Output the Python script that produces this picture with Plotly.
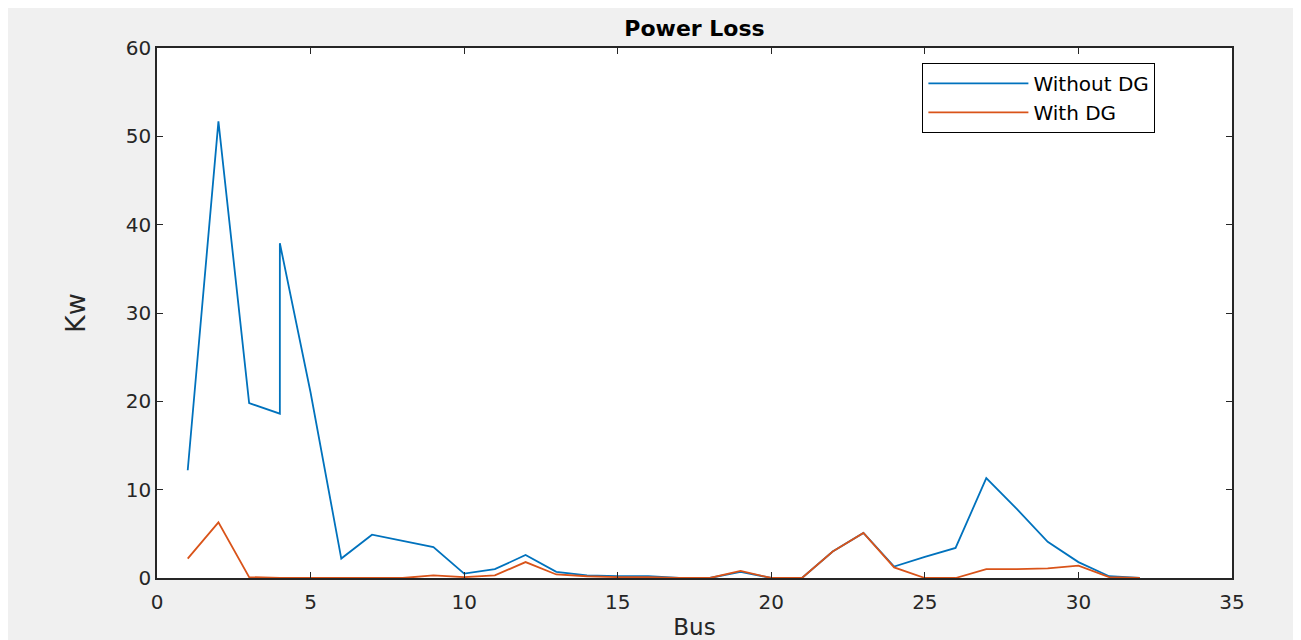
import plotly.graph_objects as go

bus = [1, 2, 3, 4, 4, 5, 6, 7, 8, 9, 10, 11, 12, 13, 14, 15, 16, 17, 18, 19,
       20, 21, 22, 23, 24, 25, 26, 27, 28, 29, 30, 31, 32]
without_dg = [12.2, 51.7, 19.8, 18.6, 37.9, 21.0, 2.2, 4.9, 4.2, 3.5, 0.5, 1.0, 2.6, 0.7,
              0.3, 0.2, 0.2, 0.0, 0.0, 0.7, 0.0, 0.0, 3.0, 5.1, 1.3, 2.4, 3.4, 11.3,
              7.8, 4.1, 1.8, 0.2, 0.0]
with_dg = [2.2, 6.3, 0.1, 0.0, 0.0, 0.0, 0.0, 0.0, 0.0, 0.3, 0.1, 0.3, 1.8, 0.4,
           0.2, 0.1, 0.1, 0.0, 0.0, 0.8, 0.0, 0.0, 3.0, 5.1, 1.2, 0.0, 0.0, 1.0,
           1.0, 1.1, 1.4, 0.1, 0.0]

x_ticks = [0, 5, 10, 15, 20, 25, 30, 35]
y_ticks = [0, 10, 20, 30, 40, 50, 60]

font_family = "DejaVu Sans, Verdana, sans-serif"
axis_color = "#262626"

fig = go.Figure()
fig.add_trace(go.Scatter(x=bus, y=without_dg, mode="lines", name="Without DG",
                         line=dict(color="#0072BD", width=1.8)))
fig.add_trace(go.Scatter(x=bus, y=with_dg, mode="lines", name="With DG",
                         line=dict(color="#D95319", width=1.8)))

axis_common = dict(showgrid=False, zeroline=False, showline=True, mirror="ticks",
                   linecolor=axis_color, linewidth=1.5, ticks="inside", ticklen=6,
                   tickcolor=axis_color, tickwidth=1.2,
                   tickfont=dict(family=font_family, size=20, color=axis_color))

fig.update_layout(
    width=1301, height=640,
    paper_bgcolor="#f0f0f0", plot_bgcolor="#ffffff",
    margin=dict(l=149, r=77, t=40, b=70),
    title=dict(text="<b>Power Loss</b>", xref="paper", x=0.5, xanchor="center",
               yref="container", y=0.969, yanchor="middle",
               font=dict(family=font_family, size=22, color="#000000")),
    xaxis=dict(range=[0, 35], tickvals=x_ticks, ticktext=[str(v) for v in x_ticks],
               ticklabelstandoff=5,
               title=dict(text="Bus", standoff=6,
                          font=dict(family=font_family, size=23, color=axis_color)),
               **axis_common),
    yaxis=dict(range=[0, 60], tickvals=y_ticks, ticktext=[str(v) for v in y_ticks],
               title=dict(text="Kw", standoff=32,
                          font=dict(family=font_family, size=27, color=axis_color)),
               **axis_common),
    legend=dict(x=0.712, y=0.972, xanchor="left", yanchor="top",
                bgcolor="#ffffff", bordercolor="#000000", borderwidth=1,
                font=dict(family=font_family, size=20, color="#000000"),
                itemwidth=100, tracegroupgap=0),
    showlegend=True,
)

fig.write_html("out.html")
